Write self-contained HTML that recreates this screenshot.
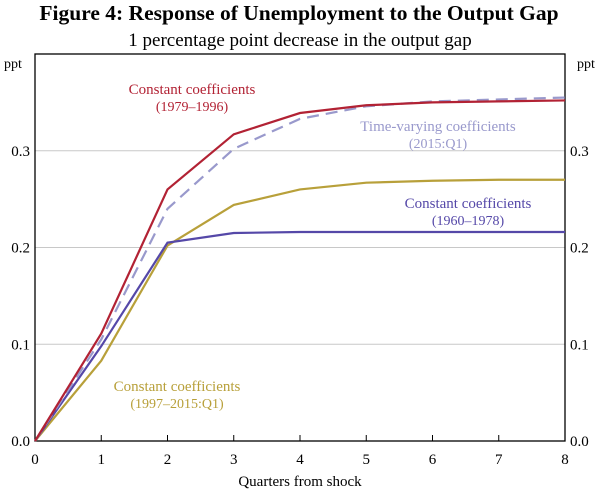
<!DOCTYPE html>
<html><head><meta charset="utf-8"><style>
body{margin:0;background:#fff;}
svg text{font-family:"Liberation Serif",serif;}
</style></head><body>
<svg width="600" height="489" xmlns="http://www.w3.org/2000/svg">
<text x="299" y="20" text-anchor="middle" font-size="21.5" font-weight="bold">Figure 4: Response of Unemployment to the Output Gap</text>
<text x="300" y="46" text-anchor="middle" font-size="19">1 percentage point decrease in the output gap</text>
<g id="grid"></g>
<rect x="35" y="54" width="530" height="387" fill="none" stroke="#000" stroke-width="1.3"/>
<text x="4" y="68" font-size="14">ppt</text>
<text x="577" y="68" font-size="14">ppt</text>
<g id="axes"></g>
<g id="series"></g>
<text x="300" y="486" text-anchor="middle" font-size="15">Quarters from shock</text>
<text x="192" y="94" text-anchor="middle" font-size="15" fill="#b22234">Constant coefficients</text>
<text x="192" y="111" text-anchor="middle" font-size="14" fill="#b22234">(1979–1996)</text>
<text x="438" y="131" text-anchor="middle" font-size="15" fill="#9999cc">Time-varying coefficients</text>
<text x="438" y="148" text-anchor="middle" font-size="14" fill="#9999cc">(2015:Q1)</text>
<text x="468" y="208" text-anchor="middle" font-size="15" fill="#5548a8">Constant coefficients</text>
<text x="468" y="225" text-anchor="middle" font-size="14" fill="#5548a8">(1960–1978)</text>
<text x="177" y="391" text-anchor="middle" font-size="15" fill="#b8a03a">Constant coefficients</text>
<text x="177" y="408" text-anchor="middle" font-size="14" fill="#b8a03a">(1997–2015:Q1)</text>
</svg>
<script>
const quarters=[0,1,2,3,4,5,6,7,8];
const red1979=[0,0.111,0.26,0.317,0.339,0.347,0.35,0.351,0.352];
const tv2015=[0,0.105,0.24,0.302,0.333,0.346,0.351,0.353,0.355];
const gold1997=[0,0.083,0.202,0.244,0.26,0.267,0.269,0.27,0.27];
const purple1960=[0,0.098,0.205,0.215,0.216,0.216,0.216,0.216,0.216];
const yTicks=[0,0.1,0.2,0.3];
const yTickLabels=["0.0","0.1","0.2","0.3"];
const xTicks=[0,1,2,3,4,5,6,7,8];
const NS="http://www.w3.org/2000/svg";
const X=q=>35+q*530/8;
const Y=v=>441-v*387/0.4;
const grid=document.getElementById('grid'),axes=document.getElementById('axes'),ser=document.getElementById('series');
function mk(t,a,p){const e=document.createElementNS(NS,t);for(const k in a)e.setAttribute(k,a[k]);p.appendChild(e);return e;}
yTicks.forEach((v,i)=>{
 if(v>0){const l=mk('line',{x1:35,x2:565,y1:Y(v),y2:Y(v),stroke:'#c8c8c8','stroke-width':1},grid);
 
 }
 const a=mk('text',{x:30,y:Y(v)+5,'text-anchor':'end','font-size':15},axes);a.textContent=yTickLabels[i];
 
 
 const b=mk('text',{x:570,y:Y(v)+5,'font-size':15},axes);b.textContent=yTickLabels[i];
 
 
});
xTicks.forEach(q=>{
 const t=mk('line',{x1:X(q),x2:X(q),y1:441,y2:435,stroke:'#000'},axes);
 
 
 const l=mk('text',{x:X(q),y:464,'text-anchor':'middle','font-size':15},axes);l.textContent=q;
 
 
});
function line(vals,color,dash,name){
 const p=mk('polyline',{points:vals.map((v,i)=>X(quarters[i])+','+Y(v)).join(' '),fill:'none',stroke:color,'stroke-width':2.2,'stroke-dasharray':dash||'none'},ser);
 
 
}
line(gold1997,'#b8a03a',null,'line-1997-2015');
line(purple1960,'#5548a8',null,'line-1960-1978');
line(tv2015,'#9999cc','12,7','line-2015q1');
line(red1979,'#b22234',null,'line-1979-1996');
</script>
</body></html>
